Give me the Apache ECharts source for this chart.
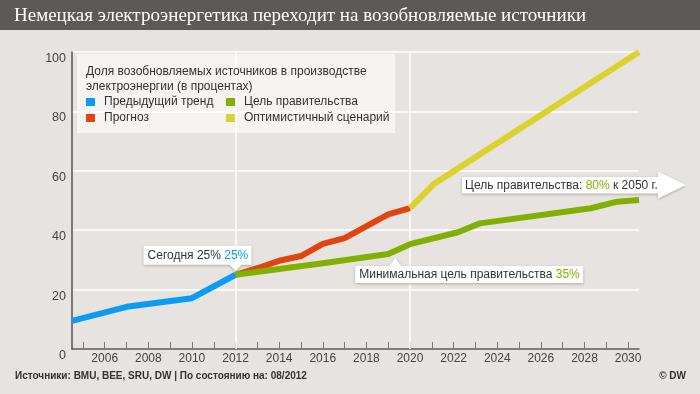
<!DOCTYPE html>
<html><head><meta charset="utf-8">
<script src="https://cdn.jsdelivr.net/npm/echarts@6/dist/echarts.min.js"></script>
<style>html,body{margin:0;padding:0;background:#e6e3e0}#c{width:700px;height:394px}</style>
</head><body><div id="c"></div>
<script>
// ---- data ----
const titleText = 'Немецкая электроэнергетика переходит на возобновляемые источники';
const legendTitle = ['Доля возобновляемых источников в производстве', 'электроэнергии (в процентах)'];
const seriesNames = ['Предыдущий тренд', 'Прогноз', 'Цель правительства', 'Оптимистичный сценарий'];
const previousTrend = [[2004.5, 9.5], [2007, 14.2], [2010, 17.1], [2012, 25]];
const forecast = [[2012, 25], [2013, 27.2], [2014, 29.7], [2015, 31.3], [2016, 35.4], [2017, 37.3], [2019, 45.3], [2020, 47.4]];
const governmentTarget = [[2012, 25], [2016, 28.9], [2019, 32], [2020, 35.3], [2022.2, 39.3], [2023.2, 42.3], [2028.3, 47.4], [2029.5, 49.6], [2030.5, 50.2]];
const optimistic = [[2020, 47.4], [2021.1, 55.6], [2030.5, 100]];
const yTickValues = [0, 20, 40, 60, 80, 100];
const xTickYears = [2005, 2006, 2007, 2008, 2009, 2010, 2011, 2012, 2013, 2014, 2015, 2016, 2017, 2018, 2019, 2020, 2021, 2022, 2023, 2024, 2025, 2026, 2027, 2028, 2029, 2030];
const xLabelYears = [2006, 2008, 2010, 2012, 2014, 2016, 2018, 2020, 2022, 2024, 2026, 2028, 2030];
const highlightYears = [2012, 2020];
const todayAnchor = [2012, 25];
const minTargetAnchor = [2019, 32];
const todayText = ['Сегодня 25% ', '25%'];
const minTargetText = ['Минимальная цель правительства ', '35%'];
const goalText = ['Цель правительства: ', '80%', ' к 2050 г.'];
const sourceText = 'Источники: BMU, BEE, SRU, DW | По состоянию на: 08/2012';
const copyrightText = '© DW';
const colors = ['#0a9cf2', '#e2440f', '#82b000', '#dcd22c'];

// ---- chart ----
const FONT = '"Liberation Sans", Arial, sans-serif';
const chart = echarts.init(document.getElementById('c'), null, {renderer: 'canvas'});
const seriesData = [previousTrend, forecast, optimistic, governmentTarget];
const seriesNameOrder = [seriesNames[0], seriesNames[1], seriesNames[3], seriesNames[2]];
const seriesColors = [colors[0], colors[1], colors[3], colors[2]];

const legendBase = {
  orient: 'vertical', icon: 'rect', itemWidth: 9, itemHeight: 8, itemGap: 4,
  padding: 0, selectedMode: false, z: 6,
  textStyle: {fontSize: 12, color: '#333', fontFamily: FONT, padding: [0, 0, 0, 4]}
};

chart.setOption({
  animation: false,
  backgroundColor: '#e6e3e0',
  color: seriesColors,
  grid: {left: 72, right: 61, top: 52, bottom: 45},
  xAxis: {
    type: 'value', min: 2004.5, max: 2030.5,
    axisLine: {show: true, lineStyle: {color: '#555', width: 1.5}},
    axisTick: {show: true, inside: true, length: 7, customValues: xTickYears, lineStyle: {color: '#777', width: 1}},
    axisLabel: {customValues: xLabelYears, margin: 4, fontSize: 12, color: '#444', fontFamily: FONT,
      formatter: v => String(v)},
    splitLine: {show: false}
  },
  yAxis: {
    type: 'value', min: 0, max: 100, interval: 20,
    axisLine: {show: true, lineStyle: {color: '#555', width: 1.5}},
    axisTick: {show: false},
    axisLabel: {margin: 6, fontSize: 12.5, color: '#444', fontFamily: FONT, verticalAlign: 'top',
      customValues: yTickValues},
    splitLine: {show: true, lineStyle: {color: '#ffffff', width: 1.5}}
  },
  legend: [
    Object.assign({}, legendBase, {left: 86, top: 96, data: [seriesNames[0], seriesNames[1]]}),
    Object.assign({}, legendBase, {left: 226, top: 96, data: [seriesNames[2], seriesNames[3]]})
  ],
  series: seriesData.map((d, i) => ({
    type: 'line', name: seriesNameOrder[i], data: d, showSymbol: false, symbol: 'none',
    lineStyle: {width: 6, color: seriesColors[i], cap: 'butt', join: 'round'},
    itemStyle: {color: seriesColors[i]},
    z: 2 + i,
    markLine: i === 0 ? {
      silent: true, symbol: 'none', z: 1, animation: false,
      label: {show: false},
      lineStyle: {color: '#ffffff', width: 1.5, type: 'solid'},
      data: highlightYears.map(y => ({xAxis: y}))
    } : undefined
  }))
});

const P = v => chart.convertToPixel({gridIndex: 0}, v);
const t = P(todayAnchor);
const m = P(minTargetAnchor);
const boxShadow = {shadowBlur: 3, shadowColor: 'rgba(0,0,0,0.25)', shadowOffsetX: 0, shadowOffsetY: 1};
const richBase = {
  a: {fontSize: 12, fill: '#333', fontFamily: FONT},
  b: {fontSize: 12, fill: colors[0], fontFamily: FONT},
  g: {fontSize: 12, fill: colors[2], fontFamily: FONT}
};

chart.setOption({
  graphic: {elements: [
    // title bar
    {type: 'rect', shape: {x: 0, y: 0, width: 700, height: 30}, style: {fill: '#5b5a58'}, z: 1},
    {type: 'text', x: 14, y: 16, z: 2, style: {text: titleText, fill: '#ffffff', font: '19px "Liberation Serif", "DejaVu Serif", serif', verticalAlign: 'middle'}},
    // legend box
    {type: 'rect', shape: {x: 77, y: 54, width: 318, height: 79}, style: {fill: 'rgba(255,255,255,0.6)'}, z: 3},
    {type: 'text', x: 86, y: 64, z: 6, style: {text: legendTitle.join('\n'), fill: '#333', font: '12px ' + FONT, lineHeight: 15}},
    // today callout
    {type: 'polygon', z: 10, shape: {points: [
      [t[0] - 92, t[1] - 29], [t[0] + 16, t[1] - 29], [t[0] + 16, t[1] - 10], [t[0] + 6, t[1] - 10],
      [t[0], t[1] - 4], [t[0] - 6, t[1] - 10], [t[0] - 92, t[1] - 10]]},
      style: Object.assign({fill: '#ffffff'}, boxShadow)},
    {type: 'text', z: 11, x: t[0] - 88, y: t[1] - 19.5, style: {
      text: '{a|' + todayText[0] + '}{b|' + todayText[1] + '}', rich: richBase, verticalAlign: 'middle'}},
    // min target callout
    {type: 'polygon', z: 10, shape: {points: [
      [m[0] - 33, m[1] + 12], [m[0] + 1, m[1] + 12], [m[0] + 7, m[1] + 4], [m[0] + 13, m[1] + 12],
      [m[0] + 195, m[1] + 12], [m[0] + 195, m[1] + 29], [m[0] - 33, m[1] + 29]]},
      style: Object.assign({fill: '#ffffff'}, boxShadow)},
    {type: 'text', z: 11, x: m[0] - 29, y: m[1] + 20.5, style: {
      text: '{a|' + minTargetText[0] + '}{g|' + minTargetText[1] + '}', rich: richBase, verticalAlign: 'middle'}},
    // 2050 goal arrow
    {type: 'polygon', z: 10, shape: {points: [
      [462, 177], [658, 177], [658, 171.5], [686, 185], [658, 198.5], [658, 193.5], [462, 193.5]]},
      style: Object.assign({fill: '#ffffff'}, boxShadow)},
    {type: 'text', z: 11, x: 465, y: 185.5, style: {
      text: '{a|' + goalText[0] + '}{g|' + goalText[1] + '}{a|' + goalText[2] + '}', rich: richBase, verticalAlign: 'middle'}},
    // footer
    {type: 'text', x: 15, y: 376, z: 2, style: {text: sourceText, fill: '#333', font: 'bold 10px ' + FONT, verticalAlign: 'middle'}},
    {type: 'text', x: 686, y: 376, z: 2, style: {text: copyrightText, fill: '#333', font: 'bold 10px ' + FONT, align: 'right', verticalAlign: 'middle'}}
  ]}
});
</script>
</body></html>
